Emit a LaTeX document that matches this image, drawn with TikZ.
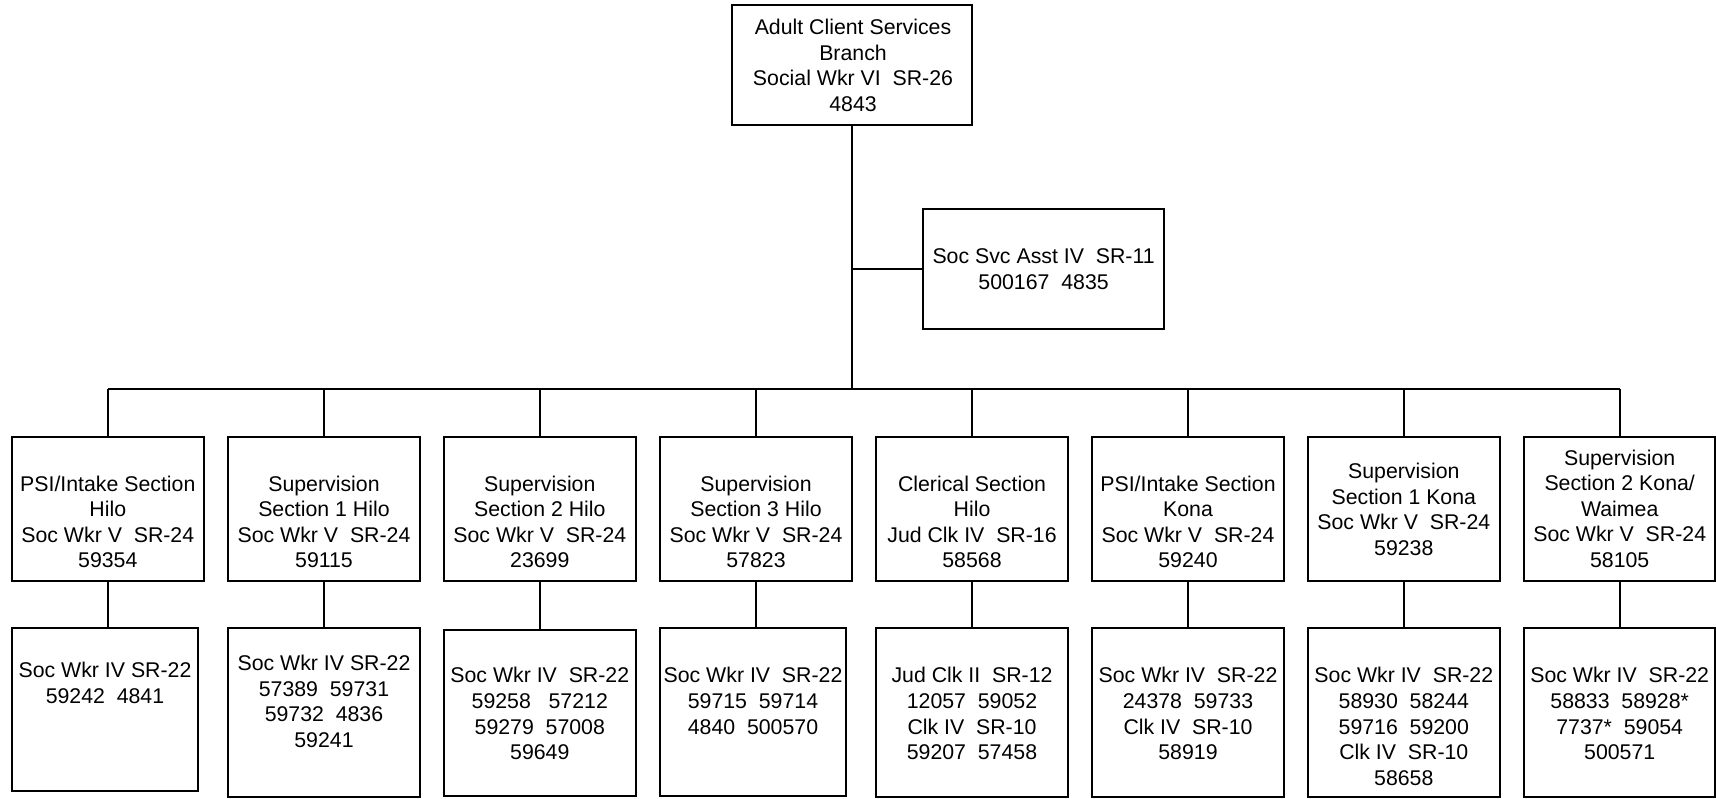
\documentclass[tikz,border=0pt]{standalone}
\usepackage{fontspec}
\setmainfont{Liberation Sans}
\newcommand\orgfont{\fontsize{21.3}{25.6}\selectfont}
\tikzset{
  orgbox/.style={draw=black, line width=1.8pt, inner sep=0pt, fill=white},
  orgtxt/.style={inner sep=0pt, anchor=north, align=center, font=\orgfont},
  link/.style={draw=black, line width=1.8pt}
}
\newcommand\bx[5]{\node[orgbox, minimum width={#4-#2}, minimum height={#5-#3}] (#1) at ({(#2+#4)/2},{(#3+#5)/2}) {};}
\newcommand\tx[4]{\node[orgtxt] (#1) at (#2,{#3-10.3}) {\strut #4};}
\begin{document}
\begin{tikzpicture}[x=1pt,y=-1pt]
\useasboundingbox[fill=white] (0,0) rectangle (1716,798);
% boxes
\bx{top}{731.7}{4.7}{972.3}{125}
\bx{asst}{923.3}{209}{1164}{329}
\bx{a1}{11.7}{436.7}{204}{581}
\bx{b1}{228}{436.7}{420}{581}
\bx{c1}{443.7}{436.7}{636}{581}
\bx{d1}{660}{436.7}{852}{581}
\bx{e1}{875.7}{436.7}{1068.3}{581}
\bx{f1}{1091.7}{436.7}{1284.3}{581}
\bx{g1}{1307.7}{436.7}{1500}{581}
\bx{h1}{1524}{436.7}{1715.3}{581}
\bx{a2}{11.7}{628.3}{198}{790.7}
\bx{b2}{228}{628.3}{420}{796.7}
\bx{c2}{443.7}{630}{636}{796}
\bx{d2}{660}{628.3}{846}{796}
\bx{e2}{875.7}{628.3}{1068.3}{796.7}
\bx{f2}{1091.7}{628.3}{1284.3}{796.7}
\bx{g2}{1307.7}{628.3}{1500}{796.7}
\bx{h2}{1524}{628.3}{1715.3}{796.7}
% texts
\tx{ttop}{853}{26.7}{Adult Client Services\\Branch\\Social Wkr VI\ \ SR-26\\4843}
\tx{tasst}{1043.6}{256}{Soc Svc Asst IV\ \ SR-11\\500167\ \ 4835}
\tx{ta1}{107.8}{483.3}{PSI/Intake Section\\Hilo\\Soc Wkr V\ \ SR-24\\59354}
\tx{tb1}{324}{483.3}{Supervision\\Section 1 Hilo\\Soc Wkr V\ \ SR-24\\59115}
\tx{tc1}{539.8}{483.3}{Supervision\\Section 2 Hilo\\Soc Wkr V\ \ SR-24\\23699}
\tx{td1}{756}{483.3}{Supervision\\Section 3 Hilo\\Soc Wkr V\ \ SR-24\\57823}
\tx{te1}{972}{483.3}{Clerical Section\\Hilo\\Jud Clk IV\ \ SR-16\\58568}
\tx{tf1}{1188}{483.3}{PSI/Intake Section\\Kona\\Soc Wkr V\ \ SR-24\\59240}
\tx{tg1}{1403.8}{470.7}{Supervision\\Section 1 Kona\\Soc Wkr V\ \ SR-24\\59238}
\tx{th1}{1619.7}{457.3}{Supervision\\Section 2 Kona/\\Waimea\\Soc Wkr V\ \ SR-24\\58105}
\tx{ta2}{105}{670}{Soc Wkr IV SR-22\\59242\ \ 4841}
\tx{tb2}{324}{662.7}{Soc Wkr IV SR-22\\57389\ \ 59731\\59732\ \ 4836\\59241}
\tx{tc2}{539.8}{675}{Soc Wkr IV\ \ SR-22\\59258\ \ \ 57212\\59279\ \ 57008\\59649}
\tx{td2}{753}{675}{Soc Wkr IV\ \ SR-22\\59715\ \ 59714\\4840\ \ 500570}
\tx{te2}{972}{675}{Jud Clk II\ \ SR-12\\12057\ \ 59052\\Clk IV\ \ SR-10\\59207\ \ 57458}
\tx{tf2}{1188}{675}{Soc Wkr IV\ \ SR-22\\24378\ \ 59733\\Clk IV\ \ SR-10\\58919}
\tx{tg2}{1403.8}{675}{Soc Wkr IV\ \ SR-22\\58930\ \ 58244\\59716\ \ 59200\\Clk IV\ \ SR-10\\58658}
\tx{th2}{1619.7}{675}{Soc Wkr IV\ \ SR-22\\58833\ \ 58928*\\7737*\ \ 59054\\500571}
% connectors
\coordinate (bus) at (852,389);
\draw[link] (top.south) -- (top.south |- bus);
\draw[link] (top.south |- asst.west) -- (asst.west);
\draw[link] (a1.north |- bus) -- (h1.north |- bus);
\foreach \n in {a,b,c,d,e,f,g,h}{
  \draw[link] (\n1.north |- bus) -- (\n1.north);
  \draw[link] (\n1.south) -- (\n1.south |- \n2.north);
}
\end{tikzpicture}
\end{document}
